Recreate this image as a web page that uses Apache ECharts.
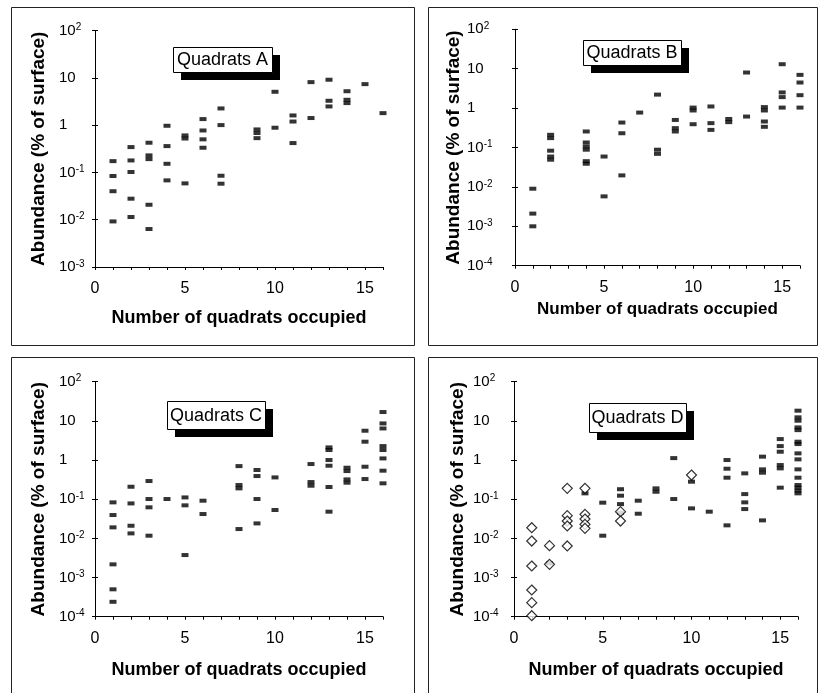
<!DOCTYPE html>
<html><head><meta charset="utf-8">
<script src="https://cdn.jsdelivr.net/npm/echarts@6/dist/echarts.min.js"></script>
<style>html,body{margin:0;padding:0;background:#fff}#c{width:818px;height:693px}</style>
</head><body><div id="c"></div>
<script>
// ---- Data ----
const panelTitles = ['Quadrats A', 'Quadrats B', 'Quadrats C', 'Quadrats D'];
const xAxisName = 'Number of quadrats occupied';
const yAxisName = 'Abundance (% of surface)';
const xTickLabels = [0, 5, 10, 15];
const yMinA = 0.001, yMinOthers = 0.0001, yMax = 100, xMax = 16;

const A_x = [1,1,1,1, 2,2,2,2,2, 3,3,3,3,3, 4,4,4,4, 5,5,5, 6,6,6,6, 7,7,7,7, 9,9,9, 10,10, 11,11,11, 12,12, 13,13,13, 14,14,14, 15, 16];
const A_y = [0.173,0.084,0.040,0.0092, 0.343,0.179,0.102,0.0278,0.0114, 0.424,0.229,0.191,0.0207,0.00635,
  0.968,0.36,0.152,0.0678, 0.605,0.52,0.0586, 1.34,0.77,0.50,0.332, 2.25,1.0,0.085,0.0577,
  0.81,0.68,0.53, 5.06,0.88, 1.6,1.19,0.417, 8.1,1.41, 9.1,3.27,2.48, 5.2,3.43,2.92, 7.35, 1.79];

const B_x = [1,1,1, 2,2,2,2,2, 4,4,4,4,4,4, 5,5, 6,6,6, 7, 8,8,8, 9,9,9, 10,10,10, 11,11,11, 12,12, 13,13, 14,14,14,14, 15,15,15,15, 16,16,16,16];
const B_y = [0.009,0.0021,0.001, 0.21,0.173,0.083,0.059,0.049, 0.255,0.134,0.106,0.088,0.045,0.0387, 0.059,0.00575,
  0.43,0.23,0.0196, 0.77, 2.2,0.088,0.069, 0.5,0.31,0.255, 1.03,0.87,0.39, 1.1,0.415,0.28, 0.53,0.44, 8.0,0.61,
  1.06,0.87,0.457,0.335, 13,2.5,1.9,1.03, 6.97,4.46,2.13,1.03];

const C_x = [1,1,1,1,1,1, 2,2,2,2, 3,3,3,3, 4, 5,5,5, 6,6, 8,8,8,8, 9,9,9,9, 10,10, 12,12,12, 13,13,13,13,13,13, 14,14,14,14, 15,15,15,15, 16,16,16,16,16,16,16,16];
const C_y = [0.083,0.0394,0.0191,0.00217,0.0005,0.00024, 0.208,0.078,0.021,0.0134, 0.291,0.101,0.062,0.0117, 0.101,
  0.111,0.0697,0.00375, 0.0916,0.0418, 0.70,0.23,0.189,0.0173, 0.556,0.39,0.101,0.0241, 0.36,0.053,
  0.79,0.274,0.221, 2.1,1.8,1.0,0.716,0.205,0.048, 0.637,0.523,0.32,0.264, 5.6,2.94,0.675,0.327,
  16.8,8.6,6.4,2.27,1.8,1.1,0.535,0.254];

// Panel D: filled marks
const D_x = [2, 4, 5,5, 6,6,6,6, 7,7, 8,8, 9,9, 10,10, 11, 12,12,12,12, 13,13,13,13, 14,14,14,14, 15,15,15,15,15,15,
  16,16,16,16,16,16,16,16,16,16,16,16,16,16,16];
const D_y = [0.0023, 0.141, 0.0815,0.0117, 0.18,0.123,0.075,0.045, 0.0916,0.0426, 0.189,0.155, 1.12,0.101, 0.28,0.0583, 0.048,
  1.0,0.6,0.354,0.0215, 0.457,0.135,0.083,0.056, 1.22,0.578,0.475,0.0288, 3.43,2.27,1.63,0.745,0.613,0.197,
  18.2,12.3,10.1,6.8,5.8,2.94,2.56,1.48,1.04,0.578,0.354,0.23,0.197,0.165,0.141];
// Panel D: open diamonds
const Dopen_x = [1,1,1,1,1,1, 2,2, 3,3,3,3,3, 4,4,4,4,4, 6,6, 10];
const Dopen_y = [0.0187,0.00855,0.00197,0.00048,0.000228,0.000106, 0.0065,0.00217, 0.189,0.038,0.0277,0.0207,0.0064,
  0.189,0.041,0.0312,0.0228,0.018, 0.048,0.0277, 0.414];

// ---- Layout ----
const FONT = '"Liberation Sans", Arial, sans-serif';
const grids = [
  {left: 95, top: 30.5, width: 288, height: 236.5},
  {left: 515, top: 29.3, width: 285, height: 236.4},
  {left: 95, top: 381.7, width: 288, height: 235},
  {left: 514, top: 381.7, width: 284, height: 235}
];
const yMins = [yMinA, yMinOthers, yMinOthers, yMinOthers];
const labelMargins = [36, 48, 36, 41];
const yNameGaps = [47, 48, 47, 47];
const xNameGaps = [42, 35, 44, 44];
const xNameSizes = [18, 17, 18, 18];
const panelBoxes = [[11,7,403,338],[428,7,389,338],[11,357,403,340],[428,357,389,340]];
const titleBoxes = [[173,47,99,25],[583,40,98,25],[167,401,98,28],[589,403,97,29]];

function ylab(v) {
  const e = Math.round(Math.log10(v));
  if (e === 1) return '{b|10}';
  if (e === 0) return '{b|1}';
  return '{b|10}{s|' + e + '}';
}
function pairs(xs, ys) { return xs.map((x, i) => [x, ys[i]]); }

const xAxes = [], yAxes = [], series = [], graphics = [];
grids.forEach((g, i) => {
  xAxes.push({
    gridIndex: i, type: 'value', min: 0, max: xMax, interval: 1,
    name: xAxisName, nameLocation: 'middle', nameGap: xNameGaps[i],
    nameTextStyle: {fontFamily: FONT, fontWeight: 'bold', fontSize: xNameSizes[i], color: '#000'},
    axisLine: {lineStyle: {color: '#000', width: 1}},
    axisTick: {length: 3, lineStyle: {color: '#000'}},
    splitLine: {show: false},
    axisLabel: {fontFamily: FONT, fontSize: 16, color: '#000', margin: 14,
      formatter: v => (xTickLabels.indexOf(v) >= 0 ? String(v) : '')}
  });
  yAxes.push({
    gridIndex: i, type: 'log', logBase: 10, min: yMins[i], max: yMax, position: 'left',
    name: yAxisName, nameLocation: 'middle', nameRotate: 90, nameGap: yNameGaps[i],
    nameTextStyle: {fontFamily: FONT, fontWeight: 'bold', fontSize: 19, color: '#000'},
    axisLine: {lineStyle: {color: '#000', width: 1}},
    axisTick: {length: 3, lineStyle: {color: '#000'}},
    splitLine: {show: false},
    axisLabel: {align: 'left', margin: labelMargins[i], formatter: ylab,
      rich: {b: {fontFamily: FONT, fontSize: 15, color: '#000', lineHeight: 16},
             s: {fontFamily: FONT, fontSize: 10, color: '#000', verticalAlign: 'top', lineHeight: 10}}}
  });
});
// inside tick overlays (cross-shaped ticks)
grids.forEach((g, i) => {
  yAxes.push({
    gridIndex: i, type: 'log', logBase: 10, min: yMins[i], max: yMax, position: 'left',
    axisLine: {show: false}, axisLabel: {show: false}, splitLine: {show: false},
    axisTick: {inside: true, length: 3, lineStyle: {color: '#000'}}
  });
});

const rectMark = {type: 'scatter', symbol: 'rect', symbolSize: [7, 4], itemStyle: {color: '#000'}, clip: false, z: 3};
series.push(Object.assign({}, rectMark, {xAxisIndex: 0, yAxisIndex: 0, data: pairs(A_x, A_y)}));
series.push(Object.assign({}, rectMark, {xAxisIndex: 1, yAxisIndex: 1, data: pairs(B_x, B_y)}));
series.push(Object.assign({}, rectMark, {xAxisIndex: 2, yAxisIndex: 2, data: pairs(C_x, C_y)}));
series.push(Object.assign({}, rectMark, {xAxisIndex: 3, yAxisIndex: 3, data: pairs(D_x, D_y)}));
series.push({type: 'scatter', xAxisIndex: 3, yAxisIndex: 3, symbol: 'diamond', symbolSize: [10, 10], clip: false, z: 4,
  itemStyle: {color: '#fff', borderColor: '#000', borderWidth: 1.2}, data: pairs(Dopen_x, Dopen_y)});

panelBoxes.forEach(b => {
  graphics.push({type: 'rect', shape: {x: b[0] + 0.5, y: b[1] + 0.5, width: b[2], height: b[3]},
    style: {fill: 'none', stroke: '#222', lineWidth: 1}, z: 0});
});
titleBoxes.forEach((b, i) => {
  graphics.push({type: 'rect', shape: {x: b[0] + 8, y: b[1] + 8, width: b[2], height: b[3]},
    style: {fill: '#000'}, z: 10});
  graphics.push({type: 'rect', shape: {x: b[0] + 0.5, y: b[1] + 0.5, width: b[2], height: b[3]},
    style: {fill: '#fff', stroke: '#000', lineWidth: 1}, z: 11});
  graphics.push({type: 'text', x: b[0] + b[2] / 2, y: b[1] + b[3] / 2 + 1, z: 12,
    style: {text: panelTitles[i], font: '18px ' + FONT, fill: '#000', textAlign: 'center', textVerticalAlign: 'middle'}});
});

const chart = echarts.init(document.getElementById('c'), null, {renderer: 'canvas'});
chart.setOption({
  animation: false,
  backgroundColor: '#fff',
  grid: grids.map(g => Object.assign({containLabel: false, outerBoundsMode: 'none'}, g)),
  xAxis: xAxes, yAxis: yAxes, series: series, graphic: graphics
});
</script></body></html>
